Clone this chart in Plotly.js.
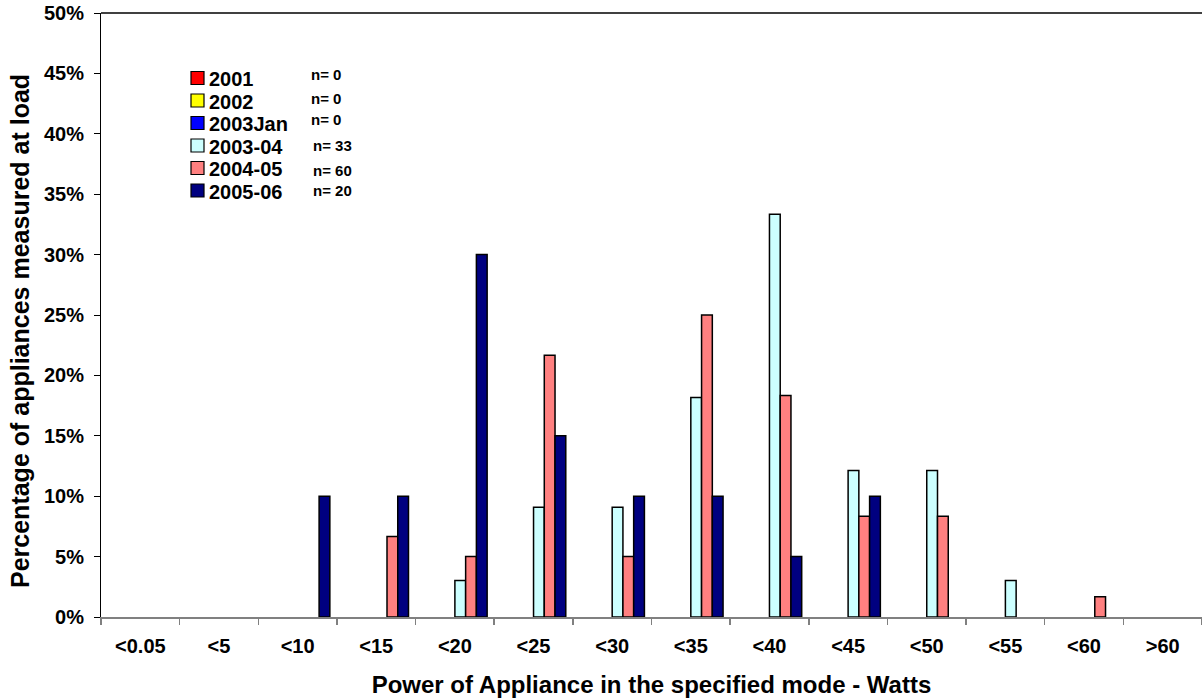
<!DOCTYPE html>
<html>
<head>
<meta charset="utf-8">
<script src="https://cdn.plot.ly/plotly-3.0.1.min.js"></script>
<style>html,body{margin:0;padding:0;background:#fff;}#chart{width:1202px;height:700px;}</style>
</head>
<body>
<div id="chart"></div>
<script>
// Categories (power bins, Watts)
const categories = ['<0.05','<5','<10','<15','<20','<25','<30','<35','<40','<45','<50','<55','<60','>60'];

// Series names, sample sizes, colours
const seriesNames = ['2001','2002','2003Jan','2003-04','2004-05','2005-06'];
const seriesN = [0, 0, 0, 33, 60, 20];
const seriesColors = ['#FF0000','#FFFF00','#0000FF','#CCFFFF','#FF8080','#000080'];

// Percentage of appliances per bin (fractions)
const s2001    = [0,0,0,0,0,0,0,0,0,0,0,0,0,0];
const s2002    = [0,0,0,0,0,0,0,0,0,0,0,0,0,0];
const s2003Jan = [0,0,0,0,0,0,0,0,0,0,0,0,0,0];
const s2003_04 = [0,0,0,0,0.0303,0.0909,0.0909,0.1818,0.3333,0.1212,0.1212,0.0303,0,0];
const s2004_05 = [0,0,0,0.0667,0.05,0.2167,0.05,0.25,0.1833,0.0833,0.0833,0,0.0167,0];
const s2005_06 = [0,0,0.10,0.10,0.30,0.15,0.10,0.10,0.05,0.10,0,0,0,0];

const seriesValues = [s2001, s2002, s2003Jan, s2003_04, s2004_05, s2005_06];

const xTitle = 'Power of Appliance in the specified mode - Watts';
const yTitle = 'Percentage of appliances measured at load';

const FONT = 'Arial, "Liberation Sans", sans-serif';

// zero-height bars are not drawn (as in the original), so hide their outlines
const traces = seriesNames.map((name, i) => ({
  type: 'bar',
  name: name,
  x: categories,
  y: seriesValues[i].map(v => (v === 0 ? null : v)),
  marker: {color: seriesColors[i], line: {color: '#000000', width: 1.5}},
  hoverinfo: 'x+y+name'
}));

// pixel -> paper helpers for the in-plot legend
const L = 101, R = 0, T = 13, B = 83, W = 1202, H = 700;
const pw = W - L - R, ph = H - T - B;
const px = v => (v - L) / pw;
const py = v => (H - B - v) / ph;

const shapes = [];
const annotations = [];
const rowY0 = 78, rowStep = 22.5;
const nY = [75, 98, 120, 145, 170, 190];
seriesNames.forEach((name, i) => {
  const cy = rowY0 + i * rowStep;
  shapes.push({
    type: 'rect', xref: 'paper', yref: 'paper',
    x0: px(191), x1: px(204), y0: py(cy + 6.5), y1: py(cy - 6.5),
    fillcolor: seriesColors[i], line: {color: '#000000', width: 1.2}
  });
  annotations.push({
    xref: 'paper', yref: 'paper', x: px(207), y: py(cy + 1),
    xanchor: 'left', yanchor: 'middle', showarrow: false,
    text: '<b>' + name + '</b>',
    font: {family: FONT, size: 20, color: '#000'}
  });
  annotations.push({
    xref: 'paper', yref: 'paper', x: px(i < 3 ? 309 : 311), y: py(nY[i]),
    xanchor: 'left', yanchor: 'middle', showarrow: false,
    text: '<b>n= ' + seriesN[i] + '</b>',
    font: {family: FONT, size: 15, color: '#000'}
  });
});

// y-axis title (placed as rotated text to match the original's vertical offset)
annotations.push({
  xref: 'paper', yref: 'paper', x: px(20), y: py(331),
  xanchor: 'center', yanchor: 'middle', showarrow: false, textangle: -90,
  text: '<b>' + yTitle + '</b>',
  font: {family: FONT, size: 25, color: '#000'}
});

const layout = {
  width: W, height: H,
  margin: {l: L, r: R, t: T, b: B, pad: 0},
  paper_bgcolor: '#ffffff',
  plot_bgcolor: '#ffffff',
  showlegend: false,
  barmode: 'group',
  bargap: 0.18,
  bargroupgap: 0,
  font: {family: FONT, color: '#000'},
  xaxis: {
    type: 'category',
    tickson: 'boundaries',
    ticks: 'outside', ticklen: 6, tickcolor: '#808080', tickwidth: 1.5,
    showline: true, linecolor: '#808080', linewidth: 2,
    mirror: false,
    showgrid: false, zeroline: false,
    tickfont: {family: FONT, size: 20, color: '#000', weight: 'bold'},
    ticklabelstandoff: 10,
    title: {text: '<b>' + xTitle + '</b>',
            font: {family: FONT, size: 24, color: '#000'}, standoff: 20},
    fixedrange: true
  },
  yaxis: {
    range: [0, 0.5],
    dtick: 0.05, tick0: 0,
    tickformat: '.0%',
    ticks: 'outside', ticklen: 6, tickcolor: '#000', tickwidth: 1,
    showline: true, linecolor: '#000', linewidth: 1,
    showgrid: false, zeroline: false,
    tickfont: {family: FONT, size: 20, color: '#000', weight: 'bold'},
    ticklabelstandoff: 6,
    fixedrange: true
  },
  shapes: [
    {type: 'line', xref: 'paper', yref: 'paper', x0: 0, x1: 1, y0: 1, y1: 1,
     line: {color: '#404040', width: 2}}
  ].concat(shapes),
  annotations: annotations
};

Plotly.newPlot('chart', traces, layout, {displayModeBar: false, staticPlot: true});
</script>
</body>
</html>
